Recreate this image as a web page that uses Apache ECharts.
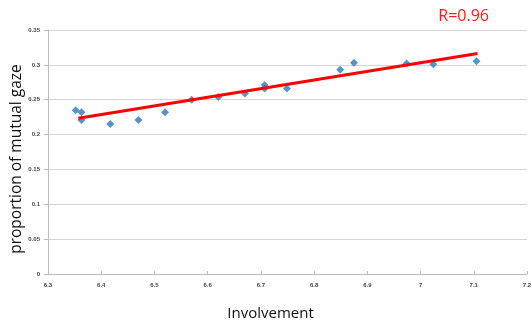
<!DOCTYPE html>
<html><head><meta charset="utf-8">
<script src="https://cdn.jsdelivr.net/npm/echarts@6/dist/echarts.min.js"></script>
<style>html,body{margin:0;padding:0;background:#fff}#c{width:531px;height:329px}</style>
</head><body><div id="c"></div>
<script>
const involvement = [6.352, 6.363, 6.363, 6.417, 6.470, 6.520, 6.570, 6.620, 6.670, 6.707, 6.707, 6.749, 6.849, 6.875, 6.974, 7.024, 7.105];
const mutualGaze = [0.235, 0.232, 0.221, 0.215, 0.221, 0.232, 0.250, 0.254, 0.259, 0.271, 0.266, 0.266, 0.293, 0.303, 0.302, 0.301, 0.305];
const fitX = [6.357, 7.107];
const fitY = [0.2235, 0.3162];
const rLabel = 'R=0.96';

const chart = echarts.init(document.getElementById('c'));
chart.setOption({
  animation: false,
  grid: {left: 48, right: 4, top: 30, bottom: 55, containLabel: false, outerBoundsMode: 'none'},
  title: {text: rLabel, right: 37, top: 3, textStyle: {color: '#ff1a1a', fontSize: 16, fontWeight: 'normal', fontFamily: 'Open Sans'}},
  xAxis: {
    type: 'value', min: 6.3, max: 7.2, interval: 0.1,
    name: 'Involvement', nameLocation: 'middle', nameGap: 32, nameMoveOverlap: false,
    nameTextStyle: {fontSize: 15, color: '#111', fontFamily: 'Open Sans', fontWeight: 500, padding: [0, 34, 0, 0]},
    axisLine: {lineStyle: {color: '#bbb'}},
    axisTick: {show: true, length: 3, inside: true, lineStyle: {color: '#bbb'}},
    axisLabel: {fontSize: 6, color: '#444', fontWeight: 'bold', margin: 8, formatter: v => String(Math.round(v*10)/10)},
    splitLine: {show: false}
  },
  yAxis: {
    type: 'value', min: 0, max: 0.35, interval: 0.05,
    name: 'proportion of mutual gaze', nameLocation: 'middle', nameGap: 23, nameMoveOverlap: false,
    nameTextStyle: {fontSize: 15.5, color: '#111', fontFamily: 'Open Sans', fontWeight: 500, padding: [0, 14, 0, 0]},
    axisLine: {show: true, lineStyle: {color: '#bbb'}},
    axisTick: {show: true, length: 4, lineStyle: {color: '#bbb'}},
    axisLabel: {fontSize: 6, color: '#444', fontWeight: 'bold', margin: 8, formatter: v => String(Math.round(v*100)/100)},
    splitLine: {show: true, lineStyle: {color: '#d4d4d4', width: 1}}
  },
  series: [
    {type: 'scatter', symbol: 'diamond', symbolSize: 8, itemStyle: {color: '#2c7bb8'},
     data: involvement.map((x, i) => [x, mutualGaze[i]]), z: 2},
    {type: 'line', symbol: 'none', lineStyle: {color: '#ff0000', width: 3},
     data: fitX.map((x, i) => [x, fitY[i]]), z: 3}
  ]
});
</script></body></html>
